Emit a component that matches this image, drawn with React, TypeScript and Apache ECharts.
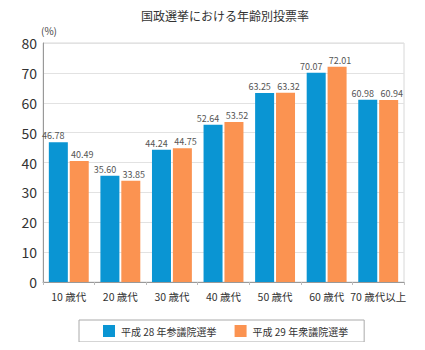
import React, { useEffect, useRef } from "react";
import * as echarts from "echarts";

const categories = ["10 歳代", "20 歳代", "30 歳代", "40 歳代", "50 歳代", "60 歳代", "70 歳代以上"];
const seriesNames = ["平成 28 年参議院選挙", "平成 29 年衆議院選挙"];
const h28 = [46.78, 35.6, 44.24, 52.64, 63.25, 70.07, 60.98];
const h29 = [40.49, 33.85, 44.75, 53.52, 63.32, 72.01, 60.94];
const colors = ["#0a95d3", "#fb9351"];

export default function App() {
  const ref = useRef<HTMLDivElement>(null);
  useEffect(() => {
    if (!ref.current) return;
    const chart = echarts.init(ref.current, null, { renderer: "svg" });
    const font = "'Noto Sans CJK JP', 'Noto Sans', sans-serif";
    const mkLabel = (dx: number) => ({
      show: true,
      position: "top" as const,
      distance: 2,
      offset: [dx, 0],
      fontSize: 9,
      color: "#555",
      fontFamily: font,
      formatter: (p: any) => Number(p.value).toFixed(2),
    });
    chart.setOption({
      animation: false,
      textStyle: { fontFamily: font },
      title: {
        text: "国政選挙における年齢別投票率",
        left: 220,
        textAlign: "center",
        top: 4,
        textStyle: { fontSize: 12, fontWeight: "normal", color: "#333", fontFamily: font },
      },
      grid: {
        left: 43,
        right: 21,
        top: 43,
        bottom: 68,
        show: true,
        borderColor: "#d8d8d8",
        borderWidth: 1,
      },
      legend: {
        top: 320,
        left: 79,
        itemWidth: 12,
        itemHeight: 12,
        itemGap: 18,
        padding: [5, 16, 5, 24],
        borderColor: "#aaa",
        borderWidth: 1,
        borderRadius: 0,
        icon: "rect",
        textStyle: { fontSize: 10, color: "#333", fontFamily: font, padding: [0, 0, 0, 1] },
        data: seriesNames,
      },
      xAxis: {
        type: "category",
        data: categories,
        axisLine: { lineStyle: { color: "#999" } },
        axisTick: { show: true, length: 3, lineStyle: { color: "#bbb" } },
        axisLabel: { fontSize: 10.5, color: "#333", margin: 9, fontFamily: font, interval: 0 },
      },
      yAxis: {
        type: "value",
        min: 0,
        max: 80,
        interval: 10,
        name: "(%)",
        nameLocation: "end",
        nameGap: 8,
        nameTextStyle: { fontSize: 10, color: "#444", align: "left", padding: [0, 0, 0, -2] },
        axisLine: { show: true, lineStyle: { color: "#999" } },
        axisTick: { show: false },
        axisLabel: { fontSize: 14, color: "#333", margin: 6, fontFamily: font },
        splitLine: { lineStyle: { color: "#e2e2e2" } },
      },
      series: [
        {
          name: seriesNames[0],
          type: "bar",
          data: h28,
          barWidth: 19,
          barGap: "10%",
          itemStyle: { color: colors[0] },
          label: mkLabel(-5),
        },
        {
          name: seriesNames[1],
          type: "bar",
          data: h29,
          barWidth: 19,
          barGap: "10%",
          itemStyle: { color: colors[1] },
          label: mkLabel(3),
        },
      ],
    });
    return () => chart.dispose();
  }, []);
  return <div ref={ref} style={{ width: 425, height: 350, margin: -8 }} />;
}
